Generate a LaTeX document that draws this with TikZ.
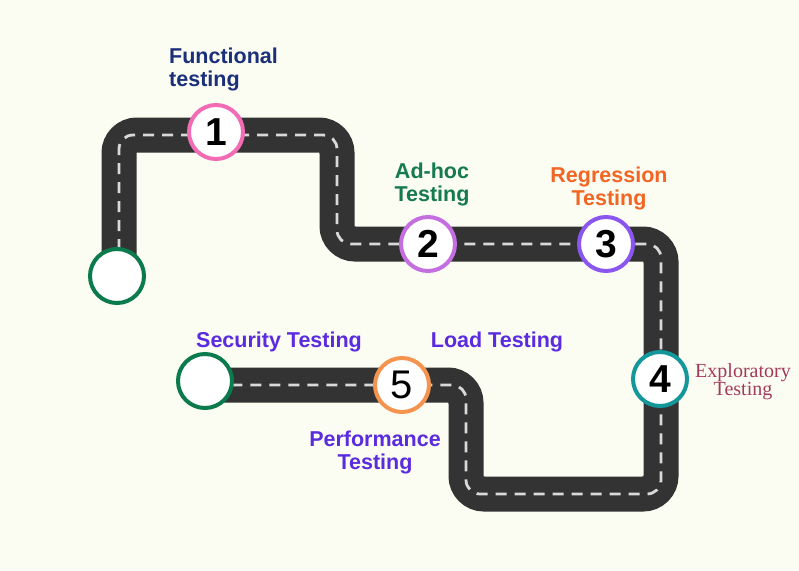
\documentclass[tikz,border=0pt]{standalone}
\usepackage{fontspec}
\setmainfont{Liberation Sans}
\newfontfamily\serifx{Liberation Serif}
\definecolor{bgc}{HTML}{FBFCF2}
\definecolor{roadc}{HTML}{333333}
\definecolor{dashc}{HTML}{D9D9D9}
\definecolor{navyc}{HTML}{1B2F7A}
\definecolor{greenc}{HTML}{157A4E}
\definecolor{orangec}{HTML}{F26522}
\definecolor{maroonc}{HTML}{A33A5A}
\definecolor{purplec}{HTML}{5B2BE0}
\definecolor{pinkb}{HTML}{F26BB5}
\definecolor{lilacb}{HTML}{C46EE0}
\definecolor{violetb}{HTML}{8B55F0}
\definecolor{tealb}{HTML}{14979A}
\definecolor{orangeb}{HTML}{F5944F}
\definecolor{greenb}{HTML}{0B7A4D}
\begin{document}
\begin{tikzpicture}[x=1pt,y=-1pt,
  road/.style={line width=35pt, draw=roadc, rounded corners=18pt},
  lane/.style={line width=2.8pt, draw=dashc, dash pattern=on 11pt off 8pt, rounded corners=14pt},
  circ/.style={circle, fill=white, line width=4pt, minimum size=54pt, inner sep=0pt,
    font=\bfseries\fontsize{39}{39}\selectfont},
  lbl/.style={font=\bfseries\fontsize{21.5}{22.5}\selectfont, inner sep=0pt}]
\fill[bgc] (0,0) rectangle (799,570);
\useasboundingbox (0,0) rectangle (799,570);
% road corner coordinates
\coordinate (s) at (119,276);
\coordinate (s2) at (119,250);
\coordinate (c1) at (119,135);
\coordinate (c2) at (337,135);
\coordinate (c3) at (337,244);
\coordinate (c4) at (661,244);
\coordinate (c5) at (661,494);
\coordinate (c6) at (466,494);
\coordinate (c7) at (466,385);
\coordinate (e) at (205,385);
\draw[road] (s) -- (c1) -- (c2) -- (c3) -- (c4) -- (c5) -- (c6) -- (c7) -- (e);
\draw[lane] (s2) -- (c1) -- (c2) -- (c3) -- (c4) -- (c5) -- (c6) -- (c7) -- (e);
% circles
\node[circ, draw=greenb] (start) at (117,276) {};
\node[circ, draw=greenb] (finish) at (205,381) {};
\node[circ, draw=pinkb] (n1) at (216,132) {1};
\node[circ, draw=lilacb] (n2) at (428,244) {2};
\node[circ, draw=violetb] (n3) at (606,244) {3};
\node[circ, draw=tealb] (n4) at (660,379) {4};
\node[circ, draw=orangeb, font=\fontsize{40}{40}\selectfont] (n5) at (402,385) {5};
% labels
\node[lbl, text=navyc, align=left, anchor=north west] (l1) at (169,48) {Functional\\testing};
\node[lbl, text=greenc, align=center, anchor=north] (l2) at (432,163) {Ad-hoc\\Testing};
\node[lbl, text=orangec, align=center, anchor=north] (l3) at (609,167) {Regression\\Testing};
\node[inner sep=0pt, text=maroonc, align=center, anchor=north, font=\serifx\fontsize{20}{17}\selectfont] (l4) at (743,363) {Exploratory\\Testing};
\node[lbl, text=purplec, anchor=north] (l5) at (279,332) {Security Testing};
\node[lbl, text=purplec, anchor=north] (l6) at (497,332) {Load Testing};
\node[lbl, text=purplec, align=center, anchor=north] (l7) at (375,431) {Performance\\Testing};
\end{tikzpicture}
\end{document}
